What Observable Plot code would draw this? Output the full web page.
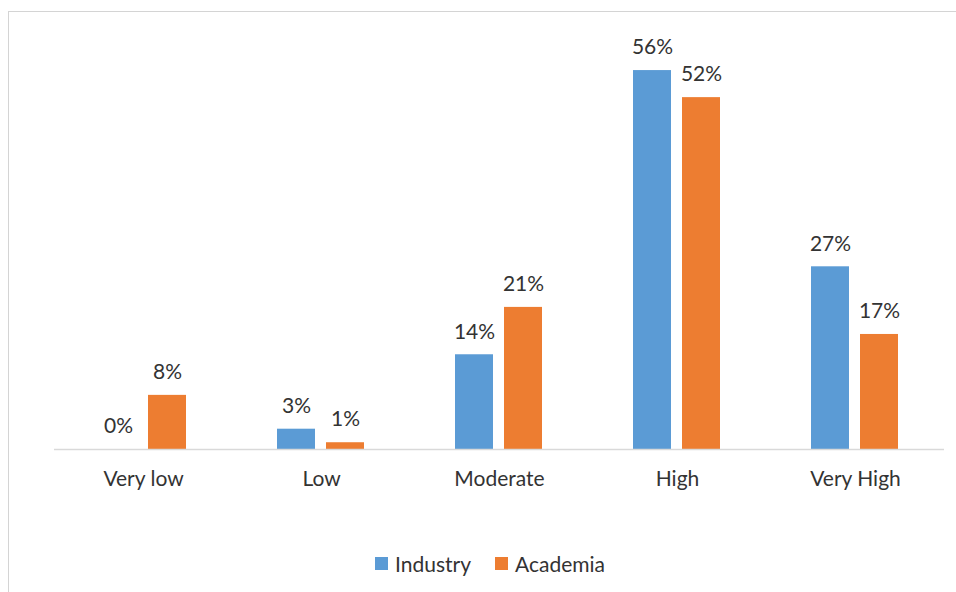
<!DOCTYPE html>
<html>
<head>
<meta charset="utf-8">
<script src="https://cdn.jsdelivr.net/npm/d3@7"></script>
<script src="https://cdn.jsdelivr.net/npm/@observablehq/plot@0.6"></script>
<style>
  html, body { margin: 0; padding: 0; background: #fff; }
  #wrap { position: relative; width: 956px; height: 592px; overflow: hidden; font-family: Lato, "Open Sans", sans-serif; }
  #frame { position: absolute; left: 8px; top: 11px; width: 960px; height: 600px; border-left: 1px solid #d4d4d4; border-top: 1px solid #d4d4d4; }
  #chart { position: absolute; left: 0; top: 0; }
  #legend { position: absolute; top: 551px; left: 0; width: 956px; display: flex; justify-content: center; gap: 24px; padding-left: 24px; box-sizing: border-box; font-size: 21px; color: #333; }
  .item { display: flex; align-items: center; gap: 7px; }
  .sw { width: 13px; height: 13px; display: inline-block; }
</style>
</head>
<body>
<div id="wrap">
  <div id="frame"></div>
  <div id="chart"></div>
  <div id="legend"></div>
</div>
<script>
// Perceived level, share of respondents (%)
const categories = ["Very low", "Low", "Moderate", "High", "Very High"];
const series = ["Industry", "Academia"];
const industry = [0, 3, 14, 56, 27];
const academia = [8, 1, 21, 52, 17];
const colors = ["#5B9BD5", "#ED7D31"];

const rows = [];
categories.forEach((c, i) => {
  rows.push({category: c, group: "Industry", value: industry[i]});
  rows.push({category: c, group: "Academia", value: academia[i]});
});

const chart = Plot.plot({
  width: 956,
  height: 530,
  marginLeft: 53,
  marginRight: 11,
  marginTop: 43,
  marginBottom: 81,
  style: {fontFamily: "Lato, 'Open Sans', sans-serif", background: "transparent"},
  fx: {domain: categories, padding: 0, label: null},
  x: {domain: series, axis: null, paddingInner: 0.22, paddingOuter: 0.894},
  y: {domain: [0, 60], axis: null},
  color: {domain: series, range: colors},
  marks: [
    Plot.axisFx({anchor: "bottom", tickSize: 0, tickPadding: 22, fontSize: 21, color: "#333", label: null}),
    Plot.barY(rows, {fx: "category", x: "group", y: "value", fill: "group"}),
    Plot.ruleY([0], {stroke: "#d9d9d9", strokeWidth: 1.5}),
    Plot.text(rows, {fx: "category", x: "group", y: "value", text: d => d.value + "%", dy: -23, fontSize: 21, fill: "#333"})
  ]
});
document.getElementById("chart").appendChild(chart);

const legend = document.getElementById("legend");
series.forEach((s, i) => {
  const item = document.createElement("div");
  item.className = "item";
  const sw = document.createElement("span");
  sw.className = "sw";
  sw.style.background = colors[i];
  const label = document.createElement("span");
  label.textContent = s;
  item.appendChild(sw);
  item.appendChild(label);
  legend.appendChild(item);
});
</script>
</body>
</html>
